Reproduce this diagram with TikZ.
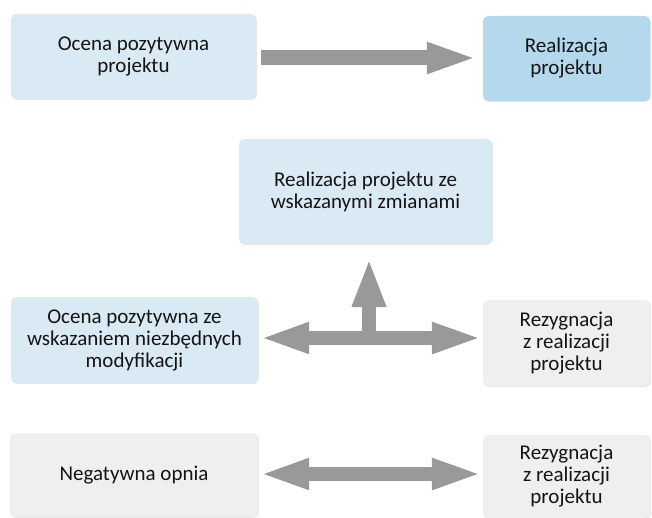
\documentclass[tikz,border=0pt]{standalone}
\usepackage{fontspec}
\setmainfont{Carlito}
\usetikzlibrary{arrows.meta,shadows}
\definecolor{paleblue}{RGB}{218,234,245}
\definecolor{midblue}{RGB}{180,216,236}
\definecolor{palegrey}{RGB}{239,239,239}
\definecolor{arrowgrey}{RGB}{153,153,153}
\definecolor{textdark}{RGB}{20,20,20}
\tikzset{
  box/.style={rounded corners=5pt, draw=none, align=center, inner sep=4pt,
    text=textdark, font=\fontsize{21}{22}\selectfont,
    drop shadow={shadow xshift=0.8pt, shadow yshift=-0.8pt, opacity=0.10, fill=black}},
  bluebox/.style={box, fill=paleblue},
  darkbox/.style={box, fill=midblue},
  greybox/.style={box, fill=palegrey},
  blockarrow/.style={draw=arrowgrey, line width=14pt,
    -{Triangle[length=51pt, width=28pt]}},
  twoway/.style={draw=arrowgrey, line width=14pt,
    {Triangle[length=50pt, width=28pt]}-{Triangle[length=51pt, width=28pt]}}
}
\begin{document}
\begin{tikzpicture}[x=1pt, y=-1pt]
  \useasboundingbox (0,0) rectangle (652,518);

  % boxes
  \node[bluebox, minimum width=245pt, minimum height=85pt] (b1) at (133.5,56.5)
    {Ocena pozytywna\\projektu};
  \node[darkbox, minimum width=167pt, minimum height=85pt] (b2) at (566.5,58.5)
    {Realizacja\\projektu};
  \node[bluebox, minimum width=253pt, minimum height=105pt] (b3) at (365.5,191.5)
    {Realizacja projektu ze\\wskazanymi zmianami};
  \node[bluebox, minimum width=247pt, minimum height=86pt] (b4) at (134.5,340)
    {Ocena pozytywna ze\\wskazaniem niezbędnych\\modyfikacji};
  \node[greybox, minimum width=167pt, minimum height=86pt] (b5) at (566.5,343)
    {Rezygnacja\\z realizacji\\projektu};
  \node[greybox, minimum width=248pt, minimum height=84pt] (b6) at (134,475)
    {Negatywna opnia};
  \node[greybox, minimum width=167pt, minimum height=83pt] (b7) at (566.5,476.5)
    {Rezygnacja\\z realizacji\\projektu};

  % connectors
  \coordinate (a1) at (b1.east |- 0,58);
  \draw[blockarrow, line width=15pt, shorten <=5pt, shorten >=5pt]
    (a1) -- (a1 -| b2.west);

  \coordinate (a2) at (b4.east |- 0,338);
  \draw[twoway, shorten <=1pt, shorten >=0pt] (a2) -- (a2 -| b5.west);

  \coordinate (j) at (369,338);
  \draw[draw=arrowgrey, line width=14pt, -{Triangle[length=49pt, width=31pt]},
    shorten >=14pt] (j) -- (j |- b3.south);

  \coordinate (a3) at (b6.east |- 0,474);
  \draw[twoway, shorten <=1pt, shorten >=0pt] (a3) -- (a3 -| b7.west);
\end{tikzpicture}
\end{document}
